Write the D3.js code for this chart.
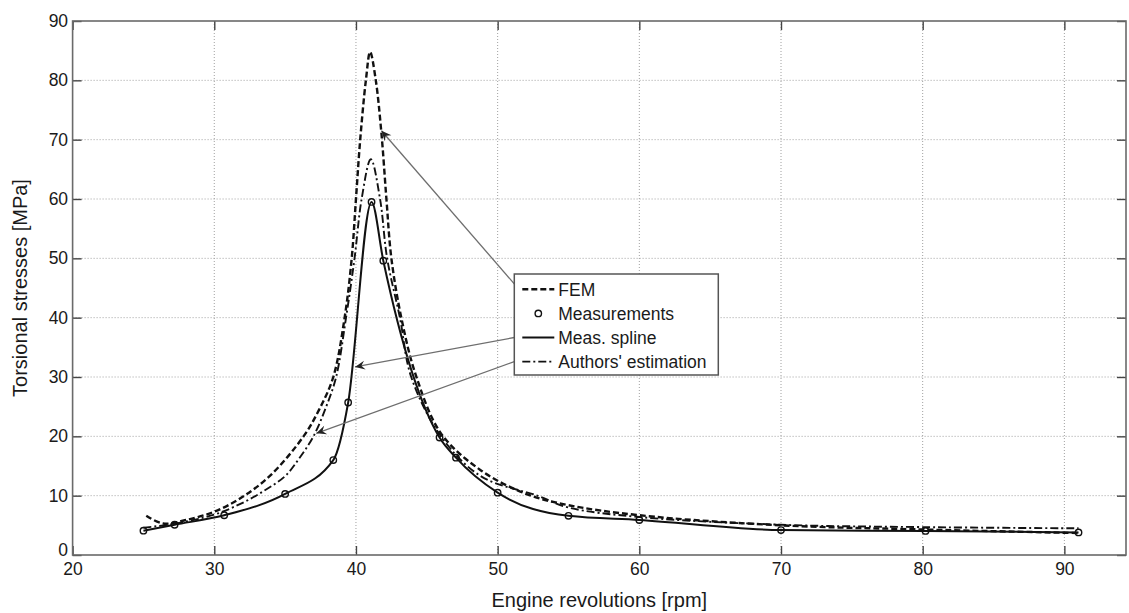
<!DOCTYPE html>
<html>
<head>
<meta charset="utf-8">
<script src="https://cdn.jsdelivr.net/npm/d3@7/dist/d3.min.js"></script>
<style>
    body { margin: 0; background: #fff; }
    svg { font-family: "Liberation Sans", Arial, sans-serif; }
</style>
</head>
<body>
<svg id="chart" width="1129" height="613"></svg>
<script>
// engine speed [rpm] vs. torsional stress [MPa]
const femRpm = [25.2, 26.4, 28, 30, 32, 34, 36.3, 37.4, 38.4, 39.2, 39.7, 40.0, 40.3, 40.7, 41.0, 41.4, 41.8, 42.15, 42.5, 43.2, 44.2, 46.0, 48.8, 52, 55, 60, 70, 80, 91];
const femStress = [6.6, 5.3, 5.9, 7.3, 9.8, 13.5, 20, 24.5, 30, 40, 50, 60, 70, 80, 84.8, 80, 71, 60, 50, 40, 30.5, 20.5, 14.3, 10.3, 8.4, 6.7, 5.0, 4.3, 3.7];

const measRpm = [25, 27.2, 30.7, 35, 38.4, 39.45, 41.1, 41.93, 45.9, 47.06, 50, 55, 60, 70, 80.2, 91];
const measStress = [4.1, 5.1, 6.7, 10.3, 16, 25.7, 59.5, 49.6, 19.8, 16.4, 10.5, 6.6, 5.9, 4.2, 4.05, 3.8];

const estRpm = [25, 27, 30, 32, 33.5, 35, 36, 37, 37.9, 38.6, 39.3, 39.9, 40.4, 41.05, 41.7, 42.2, 43.1, 43.9, 46.0, 48.8, 52.8, 55, 60, 70, 80, 91];
const estStress = [4.6, 5.2, 6.8, 8.8, 10.8, 13.3, 16.3, 20, 25, 30, 40, 50, 60, 66.7, 60, 50, 40, 30, 20, 13.3, 10, 8.0, 6.4, 5.1, 4.7, 4.5];

const xTicks = [20, 30, 40, 50, 60, 70, 80, 90];
const yTicks = [0, 10, 20, 30, 40, 50, 60, 70, 80, 90];
const legendLabels = ["FEM", "Measurements", "Meas. spline", "Authors' estimation"];

const Box = { left: 72.6, right: 1126, top: 21, bottom: 555 };
const TickLen = 9;
const FontSize = 17.5;

const svg = d3.select("#chart");

const x = d3.scaleLinear().domain([20, 94.35]).range([Box.left, Box.right]);
const y = d3.scaleLinear().domain([0, 90]).range([Box.bottom, Box.top]);

const zip = (xs, ys) => xs.map((v, i) => [v, ys[i]]);
const femData = zip(femRpm, femStress);
const measData = zip(measRpm, measStress);
const estData = zip(estRpm, estStress);

// dotted grid
const grid = svg.append("g")
    .attr("stroke", "#a0a0a0")
    .attr("stroke-width", 1)
    .attr("stroke-dasharray", "1,2");
grid.selectAll(".gx")
    .data(xTicks.filter(t => t > 20))
    .join("line")
    .attr("x1", d => x(d)).attr("x2", d => x(d))
    .attr("y1", Box.top).attr("y2", Box.bottom);
grid.selectAll(".gy")
    .data(yTicks.filter(t => t > 0 && t < 90))
    .join("line")
    .attr("x1", Box.left).attr("x2", Box.right)
    .attr("y1", d => y(d)).attr("y2", d => y(d));

// curves: model results smoothed, measurements through a monotone spline
const smooth = d3.line()
    .x(d => x(d[0]))
    .y(d => y(d[1]))
    .curve(d3.curveCatmullRom.alpha(0.5));
const spline = d3.line()
    .x(d => x(d[0]))
    .y(d => y(d[1]))
    .curve(d3.curveMonotoneX);

const curves = svg.append("g").attr("fill", "none").attr("stroke", "#111").attr("stroke-linejoin", "round");
curves.append("path")
    .attr("d", smooth(femData))
    .attr("stroke-width", 2.4)
    .attr("stroke-dasharray", "6,3");
curves.append("path")
    .attr("d", smooth(estData))
    .attr("stroke-width", 1.9)
    .attr("stroke-dasharray", "8,3,2,3");
curves.append("path")
    .attr("d", spline(measData))
    .attr("stroke-width", 2);

svg.append("g")
    .selectAll("circle")
    .data(measData)
    .join("circle")
    .attr("cx", d => x(d[0]))
    .attr("cy", d => y(d[1]))
    .attr("r", 3.2)
    .attr("fill", "none")
    .attr("stroke", "#111")
    .attr("stroke-width", 1.4);

// axes, ticks pointing inward on all four sides
function styleAxis(g) {
    g.select(".domain").remove();
    g.selectAll(".tick line").attr("stroke", "#444").attr("stroke-width", 1.4);
    g.selectAll(".tick text").attr("fill", "#1a1a1a").attr("font-size", FontSize);
}

svg.append("g")
    .attr("transform", `translate(0,${Box.bottom})`)
    .call(d3.axisBottom(x).tickValues(xTicks).tickSizeInner(-TickLen).tickSizeOuter(0).tickPadding(8))
    .attr("font-family", null)
    .call(styleAxis);
svg.append("g")
    .attr("transform", `translate(0,${Box.top})`)
    .call(d3.axisTop(x).tickValues(xTicks).tickSizeInner(-TickLen).tickSizeOuter(0).tickFormat(""))
    .call(styleAxis);
const yAxis = svg.append("g")
    .attr("transform", `translate(${Box.left},0)`)
    .call(d3.axisLeft(y).tickValues(yTicks).tickSizeInner(-TickLen).tickSizeOuter(0).tickPadding(4.5))
    .attr("font-family", null)
    .call(styleAxis);
// lift the "0" a little so it clears the "20" below it
yAxis.selectAll(".tick text").filter(d => d === 0).attr("dy", "0.05em");
svg.append("g")
    .attr("transform", `translate(${Box.right},0)`)
    .call(d3.axisRight(y).tickValues(yTicks).tickSizeInner(-TickLen).tickSizeOuter(0).tickFormat(""))
    .call(styleAxis);

svg.append("rect")
    .attr("x", Box.left).attr("y", Box.top)
    .attr("width", Box.right - Box.left)
    .attr("height", Box.bottom - Box.top)
    .attr("fill", "none")
    .attr("stroke", "#6a6a6a")
    .attr("stroke-width", 1.6);

// axis titles
svg.append("text")
    .attr("x", (Box.left + Box.right) / 2)
    .attr("y", 607)
    .attr("text-anchor", "middle")
    .attr("font-size", 20)
    .attr("fill", "#1a1a1a")
    .text("Engine revolutions [rpm]");
svg.append("text")
    .attr("transform", `translate(27,${(Box.top + Box.bottom) / 2}) rotate(-90)`)
    .attr("text-anchor", "middle")
    .attr("font-size", 20)
    .attr("fill", "#1a1a1a")
    .text("Torsional stresses [MPa]");

// legend
const Legend = { x: 514.3, y: 274, w: 204, h: 101, row0: 15.3, rowGap: 24.1 };
const rowY = i => Legend.y + Legend.row0 + i * Legend.rowGap;

// arrows from the legend entries to their curves (tips in data units)
const arrows = [
    { row: 0, tx: 519, tip: [41.8, 71.5] },
    { row: 2, tx: 514.3, tip: [39.93, 31.7] },
    { row: 3, tx: 514.3, tip: [37.2, 20.5] },
];
const arrowG = svg.append("g");
arrows.forEach(a => {
    const x0 = a.tx, y0 = rowY(a.row);
    const x1 = x(a.tip[0]), y1 = y(a.tip[1]);
    arrowG.append("line")
        .attr("x1", x0).attr("y1", y0)
        .attr("x2", x1).attr("y2", y1)
        .attr("stroke", "#6e6e6e")
        .attr("stroke-width", 1.3);
    const ang = Math.atan2(y1 - y0, x1 - x0) * 180 / Math.PI;
    arrowG.append("path")
        .attr("d", "M0,0 L-10,-4.5 L-6.5,0 L-10,4.5 Z")
        .attr("transform", `translate(${x1},${y1}) rotate(${ang})`)
        .attr("fill", "#222");
});

const legend = svg.append("g");
legend.append("rect")
    .attr("x", Legend.x).attr("y", Legend.y)
    .attr("width", Legend.w).attr("height", Legend.h)
    .attr("fill", "#fff")
    .attr("stroke", "#555")
    .attr("stroke-width", 1.5);

const sampleX0 = Legend.x + 8, sampleX1 = Legend.x + 40;
const styles = [
    { dash: "6,3", width: 2.4 },
    null,
    { dash: null, width: 2 },
    { dash: "8,3,2,3", width: 1.9 },
];
legendLabels.forEach((label, i) => {
    const yy = rowY(i);
    const s = styles[i];
    if (s) {
        legend.append("line")
            .attr("x1", sampleX0).attr("x2", sampleX1)
            .attr("y1", yy).attr("y2", yy)
            .attr("stroke", "#111")
            .attr("stroke-width", s.width)
            .attr("stroke-dasharray", s.dash);
    } else {
        legend.append("circle")
            .attr("cx", (sampleX0 + sampleX1) / 2).attr("cy", yy)
            .attr("r", 3.2)
            .attr("fill", "none")
            .attr("stroke", "#111")
            .attr("stroke-width", 1.4);
    }
    legend.append("text")
        .attr("x", Legend.x + 44)
        .attr("y", yy)
        .attr("dy", "0.36em")
        .attr("font-size", FontSize)
        .attr("fill", "#1a1a1a")
        .text(label);
});
</script>
</body>
</html>
